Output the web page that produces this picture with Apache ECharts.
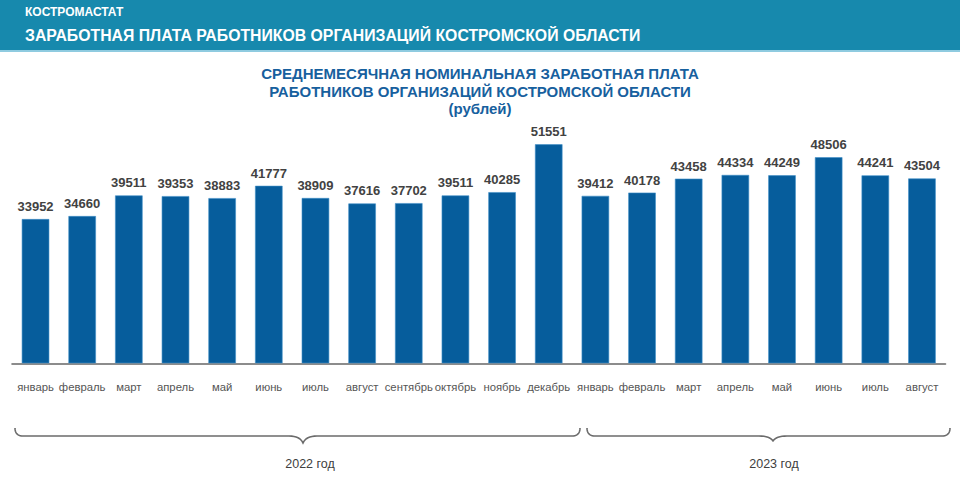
<!DOCTYPE html>
<html>
<head>
<meta charset="utf-8">
<script src="https://cdn.jsdelivr.net/npm/echarts@6/dist/echarts.min.js"></script>
<style>
html,body{margin:0;padding:0;background:#fff;}
#chart{width:960px;height:498px;}
</style>
</head>
<body>
<div id="chart"></div>
<script>
// ---- data ----
var months = ['январь','февраль','март','апрель','май','июнь','июль','август','сентябрь','октябрь','ноябрь','декабрь',
              'январь','февраль','март','апрель','май','июнь','июль','август'];
var wages = [33952,34660,39511,39353,38883,41777,38909,37616,37702,39511,40285,51551,
             39412,40178,43458,44334,44249,48506,44241,43504];
var yearLabels = ['2022 год','2023 год'];
var yearSizes = [12, 8];
var headerSource = 'КОСТРОМАСТАТ';
var headerTitle = 'ЗАРАБОТНАЯ ПЛАТА РАБОТНИКОВ ОРГАНИЗАЦИЙ КОСТРОМСКОЙ ОБЛАСТИ';
var chartTitle = 'СРЕДНЕМЕСЯЧНАЯ НОМИНАЛЬНАЯ ЗАРАБОТНАЯ ПЛАТА\nРАБОТНИКОВ ОРГАНИЗАЦИЙ КОСТРОМСКОЙ ОБЛАСТИ\n(рублей)';

var FONT = '"Liberation Sans", Arial, sans-serif';
var chart = echarts.init(document.getElementById('chart'), null, {renderer: 'svg'});

function quad(pts, p0, p1, p2, n) {
  for (var i = 1; i <= n; i++) {
    var t = i / n, a = (1 - t) * (1 - t), b = 2 * (1 - t) * t, c = t * t;
    pts.push([a * p0[0] + b * p1[0] + c * p2[0], a * p0[1] + b * p1[1] + c * p2[1]]);
  }
}
function bracePoints(x1, x2, xm, yTop, yLine, yTip) {
  var pts = [[x1, yTop]];
  quad(pts, [x1, yTop], [x1, yLine], [x1 + 8, yLine], 8);
  pts.push([xm - 14, yLine]);
  quad(pts, [xm - 14, yLine], [xm - 3, yLine], [xm, yTip], 8);
  quad(pts, [xm, yTip], [xm + 3, yLine], [xm + 14, yLine], 8);
  pts.push([x2 - 8, yLine]);
  quad(pts, [x2 - 8, yLine], [x2, yLine], [x2, yTop], 8);
  return pts;
}

var braces = [
  {x1: 15, x2: 580, xm: 303, tip: 443, lx: 310},
  {x1: 587, x2: 950, xm: 773, tip: 441, lx: 774}
];

var graphics = [
  {type: 'rect', shape: {x: 0, y: 0, width: 960, height: 50}, style: {fill: '#1789ad'}, silent: true},
  {type: 'rect', shape: {x: 0, y: 50, width: 960, height: 2}, style: {fill: '#8fcbe0'}, silent: true},
  {type: 'text', x: 25, y: 12, style: {text: headerSource, fill: '#ffffff', font: 'bold 12px ' + FONT, textVerticalAlign: 'middle'}},
  {type: 'text', x: 25, y: 35, style: {text: headerTitle, fill: '#ffffff', font: 'bold 15.8px ' + FONT, textVerticalAlign: 'middle'}}
];
braces.forEach(function (b, i) {
  graphics.push({type: 'polyline', shape: {points: bracePoints(b.x1, b.x2, b.xm, 428, 436, b.tip)},
    style: {fill: null, stroke: '#6b6b6b', lineWidth: 1.6}, silent: true});
  graphics.push({type: 'text', x: b.lx, y: 464,
    style: {text: yearLabels[i], fill: '#404040', font: '12.5px ' + FONT, textAlign: 'center', textVerticalAlign: 'middle'}});
});

chart.setOption({
  animation: false,
  backgroundColor: '#ffffff',
  title: {
    text: chartTitle,
    left: 475,
    top: 60,
    textAlign: 'center',
    textStyle: {color: '#17609e', fontSize: 15, fontWeight: 'bold', fontFamily: FONT, lineHeight: 17.5}
  },
  grid: {left: 12.2, right: 14.7, top: 108.4, bottom: 134.7, containLabel: false},
  xAxis: {
    type: 'category',
    data: months,
    axisLine: {lineStyle: {color: '#8c8c8c', width: 2}},
    axisTick: {show: false},
    axisLabel: {interval: 0, color: '#555555', fontSize: 11.3, fontFamily: FONT, margin: 18}
  },
  yAxis: {type: 'value', min: 0, max: 60000, show: false, splitLine: {show: false}},
  series: [{
    type: 'bar',
    data: wages,
    barWidth: 27.5,
    itemStyle: {color: '#065d9c', borderColor: '#3f8fc7', borderWidth: 0.6},
    label: {show: true, position: 'top', distance: 6, color: '#424242', fontSize: 13, fontWeight: 'bold', fontFamily: FONT}
  }],
  graphic: graphics
});
</script>
</body>
</html>
